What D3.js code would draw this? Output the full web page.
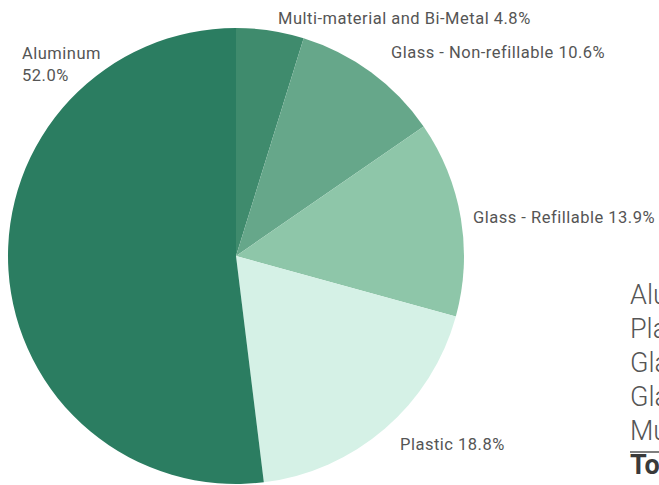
<!DOCTYPE html>
<html lang="en">
<meta charset="utf-8">
<head>
    <script src='https://d3js.org/d3.v7.min.js'></script>
    <style>
        body { margin: 0; background: #fff; }
        svg { display: block; font-family: Roboto, "DejaVu Sans Condensed", sans-serif; }
    </style>
</head>
<body>
</body>

<script>
    var width = 659, height = 485;

    // data (clockwise from 12 o'clock)
    var materials = ['Multi-material and Bi-Metal', 'Glass - Non-refillable', 'Glass - Refillable', 'Plastic', 'Aluminum'];
    var shares = [4.8, 10.6, 13.9, 18.8, 52.0];
    var colors = ['#3f8b6d', '#66a78a', '#8ec6a9', '#d5f1e6', '#2b7d61'];

    // table on the right, cut off by the page edge
    var tableRows = ['Aluminum', 'Plastic', 'Glass - Non-refillable', 'Glass - Refillable', 'Multi-material and Bi-Metal'];
    var tableTotal = 'Total';

    var svg = d3.select('body').append('svg').attr('width', width).attr('height', height);

    var cx = 236, cy = 256, r = 228;

    var pie = d3.pie().sort(null).value(function(d) { return d; });
    var arc = d3.arc().innerRadius(0).outerRadius(r);

    var g = svg.append('g').attr('transform', 'translate(' + cx + ',' + cy + ')');
    g.selectAll('path')
        .data(pie(shares))
        .join('path')
        .attr('d', arc)
        .attr('fill', function(d, i) { return colors[i]; });

    // slice labels
    var labelPos = [
        {x: 278, y: 24},
        {x: 391, y: 58},
        {x: 473, y: 223},
        {x: 400, y: 450},
        {x: 22, y: 59}
    ];
    var fmt = d3.format('.1f');
    var labels = svg.append('g').attr('fill', '#555')
        .style('font-size', '16.5px').style('letter-spacing', '0.5px');
    materials.forEach(function(m, i) {
        var p = labelPos[i];
        var t = labels.append('text').attr('x', p.x).attr('y', p.y);
        if (m === 'Aluminum') {
            t.text(m);
            labels.append('text').attr('x', p.x).attr('y', p.y + 22).text(fmt(shares[i]) + '%');
        } else {
            t.text(m + ' ' + fmt(shares[i]) + '%');
        }
    });

    // right-side table
    var tx = 630, rowY = d3.scaleLinear().domain([0, 1]).range([304, 338]);
    var table = svg.append('g').attr('fill', '#555').style('font-size', '27px').style('font-weight', 300);
    tableRows.forEach(function(t, i) {
        table.append('text').attr('x', tx).attr('y', rowY(i)).text(t);
    });
    table.append('line')
        .attr('x1', tx).attr('x2', width)
        .attr('y1', 452).attr('y2', 452)
        .attr('stroke', '#555').attr('stroke-width', 1.5);
    table.append('text').attr('x', tx).attr('y', rowY(5))
        .style('font-weight', 700).attr('fill', '#3a3a3a').text(tableTotal);
    console.log('ready..');
</script>
